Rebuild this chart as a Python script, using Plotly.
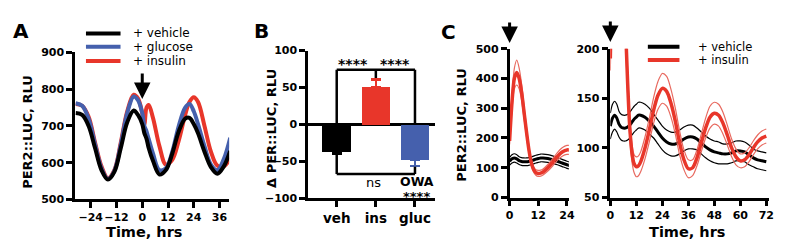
import plotly.graph_objects as go

# ---------------- DATA ----------------
# Panel A: PER2::LUC traces (RLU) vs time (hrs)
a_time = [-31, -28, -25, -22, -19, -16, -13, -10, -7, -4, -2, 0, 1, 2, 3, 5, 8, 11, 14, 17, 20, 22, 24, 26, 29, 32, 35, 38, 41]
a_vehicle = [735, 730, 700, 640, 580, 554, 575, 640, 710, 742, 730, 705, 680, 665, 640, 605, 568, 580, 625, 685, 720, 722, 705, 680, 630, 588, 570, 590, 632]
a_glucose = [762, 755, 720, 650, 585, 556, 578, 650, 735, 780, 770, 735, 700, 685, 665, 625, 580, 585, 630, 700, 750, 760, 740, 705, 645, 595, 580, 610, 668]
a_insulin = [760, 755, 725, 655, 590, 558, 580, 655, 740, 785, 775, 735, 705, 750, 757, 722, 645, 595, 608, 660, 730, 765, 778, 765, 700, 630, 592, 590, 612]

# Panel B: change in PER::LUC (RLU)
b_categories = ["veh", "ins", "gluc"]
b_values = [-36, 51, -47]
b_err = [3, 10, 9]

# Panel C: PER2::LUC (RLU) vs time (hrs), mean and SEM
c_time = [0, 1, 2, 3, 4, 5, 6, 7, 8, 9, 10, 11, 12, 13, 14, 16, 18, 20, 22, 24, 26, 28, 30, 32, 34, 36, 38, 40, 42, 44, 46, 48, 50, 52, 54, 56, 58, 60, 62, 64, 66, 68, 70, 72]
c_insulin = [190, 320, 400, 420, 400, 355, 290, 225, 165, 120, 95, 84, 81, 82, 86, 100, 118, 138, 153, 160, 157, 145, 127, 105, 88, 79, 80, 90, 105, 120, 131, 135, 133, 125, 113, 100, 91, 87, 88, 93, 100, 106, 110, 112]
c_insulin_sem = [12, 25, 35, 42, 35, 28, 22, 16, 12, 10, 9, 9, 10, 10, 10, 11, 12, 13, 14, 15, 15, 14, 13, 12, 10, 9, 8, 8, 9, 10, 11, 11, 11, 11, 10, 9, 8, 7, 7, 7, 7, 7, 7, 7]
c_vehicle = [122, 130, 133, 130, 124, 121, 120, 120, 121, 123, 126, 129, 131, 133, 133, 131, 127, 122, 116, 110, 106, 104, 104, 106, 109, 111, 111, 109, 105, 101, 98, 96, 95, 94, 94, 95, 97, 97, 96, 93, 90, 88, 87, 86]
c_vehicle_sem = [13, 14, 14, 14, 13, 13, 13, 13, 13, 13, 13, 13, 13, 13, 13, 13, 13, 12, 12, 12, 12, 12, 12, 12, 12, 12, 12, 11, 11, 11, 11, 11, 11, 10, 10, 10, 10, 10, 10, 10, 9, 9, 9, 9]

# ---------------- STYLE ----------------
W, H = 800, 251
BLACK = "#000000"
BLUE = "#4560ad"
RED = "#e8362a"
FONT = "DejaVu Sans"

def px(x):
    return x / W

def py(y):
    return 1 - y / H

fig = go.Figure()

# ---- Panel A ----
for name, vals, col in [("+ insulin", a_insulin, RED), ("+ glucose", a_glucose, BLUE), ("+ vehicle", a_vehicle, BLACK)]:
    fig.add_trace(go.Scatter(x=a_time, y=vals, mode="lines", line=dict(color=col, width=4, shape="spline", smoothing=1.0),
                             xaxis="x", yaxis="y", showlegend=False, name=name))

# ---- Panel B ----
b_colors = [BLACK, RED, BLUE]
b_pos = list(range(len(b_categories)))
for i in b_pos:
    v = b_values[i]
    e = b_err[i]
    fig.add_trace(go.Bar(x=[i], y=[v], marker=dict(color=b_colors[i], line=dict(width=0)), width=0.72,
                         error_y=dict(type="data", symmetric=False,
                                      array=[e if v > 0 else 0], arrayminus=[e if v < 0 else 0],
                                      color=b_colors[i], thickness=2.5, width=5),
                         xaxis="x2", yaxis="y2", showlegend=False))

# ---- Panel C ----
c_ins_hi = [m + s for m, s in zip(c_insulin, c_insulin_sem)]
c_ins_lo = [m - s for m, s in zip(c_insulin, c_insulin_sem)]
c_veh_hi = [m + s for m, s in zip(c_vehicle, c_vehicle_sem)]
c_veh_lo = [m - s for m, s in zip(c_vehicle, c_vehicle_sem)]
for xa, ya in [("x3", "y3"), ("x4", "y4")]:
    for arr, col, w in [(c_veh_hi, BLACK, 1.2), (c_veh_lo, BLACK, 1.2), (c_vehicle, BLACK, 3),
                        (c_ins_hi, "#e86a60", 1.2), (c_ins_lo, "#e86a60", 1.2), (c_insulin, RED, 3.5)]:
        fig.add_trace(go.Scatter(x=c_time, y=arr, mode="lines", line=dict(color=col, width=w, shape="spline", smoothing=0.8),
                                 xaxis=xa, yaxis=ya, showlegend=False))

axis_common = dict(showgrid=False, zeroline=False, showline=True, linecolor=BLACK, linewidth=2.5,
                   ticks="outside", ticklen=6, tickwidth=2.5, tickcolor=BLACK, tickangle=0,
                   tickfont=dict(family=FONT, size=11, color=BLACK, weight="bold"))

fig.update_layout(
    width=W, height=H, margin=dict(l=0, r=0, t=0, b=0),
    paper_bgcolor="white", plot_bgcolor="white", showlegend=False, bargap=0,
    xaxis=dict(domain=[px(72), px(228)], range=[-31.3, 40.5], tickvals=[-24, -12, 0, 12, 24, 36], anchor="y", **axis_common),
    yaxis=dict(domain=[py(204), py(49)], range=[500, 900], tickvals=[500, 600, 700, 800, 900], anchor="x", **axis_common),
    xaxis2=dict(domain=[px(308), px(436)], range=[-0.73, 2.5], tickvals=b_pos, ticktext=b_categories, anchor="y2",
                **{**axis_common, "tickfont": dict(family=FONT, size=13.5, color=BLACK, weight="bold")}),
    yaxis2=dict(domain=[py(203), py(47)], range=[-100, 100], tickvals=[-100, -50, 0, 50, 100], anchor="x2",
                **{**axis_common, "zeroline": True, "zerolinewidth": 2.5, "zerolinecolor": BLACK}),
    xaxis3=dict(domain=[px(512), px(572)], range=[0, 24.8], tickvals=[0, 12, 24], anchor="y3", **axis_common),
    yaxis3=dict(domain=[py(202), py(45)], range=[0, 500], tickvals=[0, 100, 200, 300, 400, 500], anchor="x3", **axis_common),
    xaxis4=dict(domain=[px(614), px(775)], range=[0, 73.4], tickvals=[0, 12, 24, 36, 48, 60, 72], anchor="y4", **axis_common),
    yaxis4=dict(domain=[py(202), py(45)], range=[50, 200], tickvals=[50, 100, 150, 200], anchor="x4", **axis_common),
)

ann = []
shapes = []
bold = dict(family=FONT, color=BLACK, weight="bold")
normal = dict(family=FONT, color=BLACK)

# Panel letters
for t, x, y in [("A", 17, 26), ("B", 261, 26), ("C", 450, 27)]:
    ann.append(dict(text=t, x=px(x), y=py(y), xref="paper", yref="paper", showarrow=False,
                    font=dict(size=20, **bold), xanchor="center", yanchor="middle"))

# Axis titles
for t, x, y, ang, s in [("PER2::LUC, RLU", 23, 133, -90, 13), ("Δ PER::LUC, RLU", 271, 129, -90, 13),
                        ("PER2::LUC, RLU", 463, 125, -90, 13),
                        ("Time, hrs", 142, 238, 0, 14.5), ("Time, hrs", 692, 238, 0, 14.5)]:
    ann.append(dict(text=t, x=px(x), y=py(y), xref="paper", yref="paper", showarrow=False, textangle=ang,
                    font=dict(size=s, **bold), xanchor="center", yanchor="middle"))

# Legends
for t, col, y in [("+ vehicle", BLACK, 29), ("+ glucose", BLUE, 43), ("+ insulin", RED, 58)]:
    shapes.append(dict(type="line", xref="paper", yref="paper", x0=px(83), x1=px(118), y0=py(y), y1=py(y),
                       line=dict(color=col, width=4)))
    ann.append(dict(text=t, x=px(129), y=py(y), xref="paper", yref="paper", showarrow=False,
                    font=dict(size=12, **normal), xanchor="left", yanchor="middle"))
for t, col, y in [("+ vehicle", BLACK, 43), ("+ insulin", RED, 57)]:
    shapes.append(dict(type="line", xref="paper", yref="paper", x0=px(652), x1=px(684), y0=py(y), y1=py(y),
                       line=dict(color=col, width=4)))
    ann.append(dict(text=t, x=px(701), y=py(y), xref="paper", yref="paper", showarrow=False,
                    font=dict(size=11.5, **normal), xanchor="left", yanchor="middle"))

# Arrows
for xa, ya, xv, ytip, ylen in [("x", "y", 0, py(98), 27), ("x3", "y3", 0, py(39), 22), ("x4", "y4", 0, py(38), 22)]:
    ann.append(dict(x=xv, y=ytip, xref=xa, yref="paper", ax=0, ay=-ylen, showarrow=True,
                    arrowhead=2, arrowsize=1.1, arrowwidth=3, arrowcolor=BLACK, text=""))

# Panel B brackets
br = dict(type="line", xref="x2", yref="y2", line=dict(color=BLACK, width=2.5))
shapes += [
    dict(x0=0, x1=2, y0=74, y1=74, **br),
    dict(x0=0, x1=0, y0=74, y1=-3, **br),
    dict(x0=2, x1=2, y0=74, y1=0, **br),
    dict(x0=1, x1=1, y0=74, y1=63, **br),
    dict(x0=0, x1=2, y0=-67, y1=-67, **br),
    dict(x0=0, x1=0, y0=-67, y1=-40, **br),
    dict(x0=2, x1=2, y0=-67, y1=-57, **br),
]
for t, x, y, f, ya in [("****", 0.42, 96, dict(size=14, **bold), "top"), ("****", 1.5, 96, dict(size=14, **bold), "top"),
                       ("ns", 0.95, -79, dict(size=13, **normal), "middle"), ("OWA", 2.05, -77, dict(size=12.5, **bold), "middle"),
                       ("****", 2.05, -85, dict(size=13, **bold), "top")]:
    ann.append(dict(text=t, x=x, y=y, xref="x2", yref="y2", showarrow=False, font=f,
                    xanchor="center", yanchor=ya))

fig.update_layout(annotations=ann, shapes=shapes)
fig.write_html("out.html")
